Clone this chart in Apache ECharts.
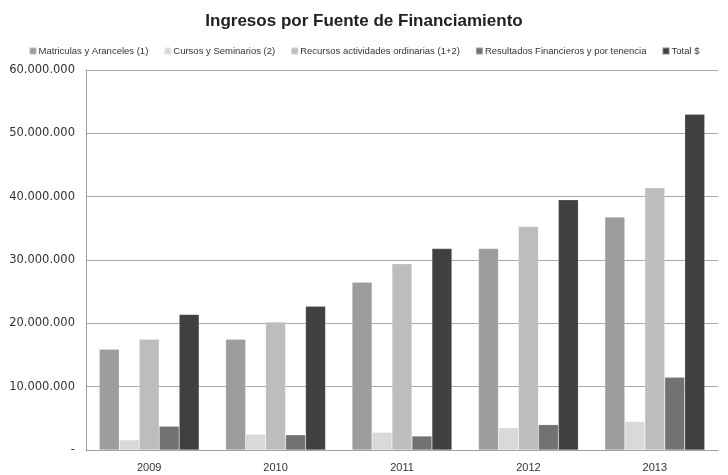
<!DOCTYPE html>
<html>
<head>
<meta charset="utf-8">
<script src="https://cdn.jsdelivr.net/npm/echarts@6/dist/echarts.min.js"></script>
<style>
  html, body { margin: 0; padding: 0; background: #fff; }
  #chart { width: 728px; height: 475px; }
</style>
</head>
<body>
<div id="chart"></div>
<script>
var years = ['2009', '2010', '2011', '2012', '2013'];
var seriesNames = [
    'Matriculas y Aranceles (1)',
    'Cursos y Seminarios (2)',
    'Recursos actividades ordinarias (1+2)',
    'Resultados Financieros y por tenencia',
    'Total $'
];
var matriculas = [15900000, 17500000, 26500000, 31800000, 36800000];
var cursos = [1600000, 2500000, 2800000, 3500000, 4500000];
var recursos = [17500000, 20200000, 29400000, 35300000, 41400000];
var resultados = [3750000, 2400000, 2200000, 4000000, 11500000];
var total = [21400000, 22700000, 31800000, 39500000, 53000000];

var colors = ['#9d9d9b', '#d9d9d9', '#bdbdbd', '#727272', '#404040'];
var font = 'Liberation Sans Narrow, Liberation Sans, sans-serif';

var formatNumber = function (v) {
    if (v === 0) return '-';
    return String(v).replace(/\B(?=(\d{3})+(?!\d))/g, '.');
};

var chart = echarts.init(document.getElementById('chart'));

var dataList = [matriculas, cursos, recursos, resultados, total];
var series = [];
for (var i = 0; i < seriesNames.length; i++) {
    series.push({
        name: seriesNames[i],
        type: 'bar',
        data: dataList[i],
        barGap: '0%',
        barCategoryGap: '21%',
        itemStyle: { color: colors[i], borderColor: 'rgba(255,255,255,0.35)', borderWidth: 0.5 }
    });
}

chart.setOption({
    animation: false,
    title: {
        text: 'Ingresos por Fuente de Financiamiento',
        left: 'center',
        top: 8,
        textStyle: { fontFamily: font, fontSize: 17, fontWeight: 'bold', color: '#222' }
    },
    legend: {
        top: 41,
        left: 'center',
        itemWidth: 7,
        itemHeight: 7,
        itemGap: 15,
        icon: 'rect',
        textStyle: { fontFamily: font, fontSize: 9.5, color: '#333', padding: [0, 0, 0, -3] },
        data: seriesNames
    },
    grid: { left: 86, right: 10, top: 70, bottom: 25 },
    xAxis: {
        type: 'category',
        data: years,
        axisLine: { lineStyle: { color: '#a0a0a0' } },
        axisTick: { show: false },
        axisLabel: { fontFamily: font, fontSize: 11, color: '#333', margin: 12 }
    },
    yAxis: {
        type: 'value',
        min: 0,
        max: 60000000,
        interval: 10000000,
        axisLine: { show: true, lineStyle: { color: '#a0a0a0' } },
        axisTick: { show: false },
        splitLine: { lineStyle: { color: '#a8a8a8' } },
        axisLabel: { fontFamily: 'DejaVu Sans, sans-serif', fontSize: 11.5, color: '#333', margin: 11, formatter: formatNumber }
    },
    series: series
});
</script>
</body>
</html>
